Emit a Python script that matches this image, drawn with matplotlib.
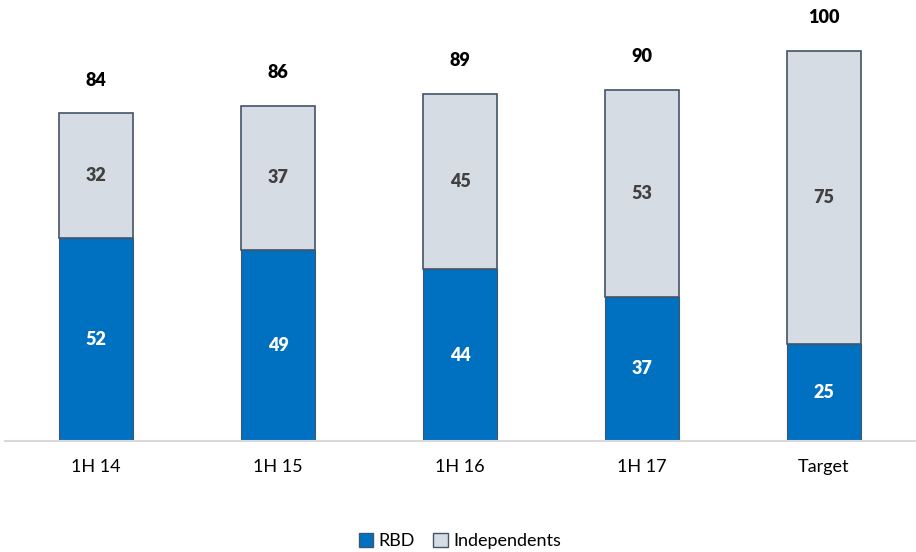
import matplotlib
matplotlib.use("Agg")
import matplotlib.pyplot as plt
from matplotlib.patches import Patch

plt.rcParams['font.family'] = ['Lato', 'DejaVu Sans']

categories = ["1H 14", "1H 15", "1H 16", "1H 17", "Target"]
rbd = [52, 49, 44, 37, 25]
independents = [32, 37, 45, 53, 75]
totals = [84, 86, 89, 90, 100]

BLUE = "#0070C0"
GREY = "#D6DCE4"
EDGE = "#44546A"


def build_chart():
    fig = plt.figure(figsize=(9.16, 5.52), dpi=100)
    ax = fig.add_axes([5 / 916, 111 / 552, 910 / 916, 429 / 552])

    x = range(len(categories))
    ax.bar(x, rbd, width=0.41, color=BLUE, edgecolor=EDGE, linewidth=0.8)
    ax.bar(x, independents, width=0.41, bottom=rbd, color=GREY,
           edgecolor=EDGE, linewidth=1.2)

    for i in x:
        ax.text(i, rbd[i] / 2, str(rbd[i]), ha="center", va="center",
                color="white", fontsize=13, fontweight="heavy")
        ax.text(i, rbd[i] + independents[i] / 2, str(independents[i]),
                ha="center", va="center", color="#404040", fontsize=13,
                fontweight="heavy")
        ax.text(i, totals[i] + 8.5, str(totals[i]), ha="center", va="center",
                color="black", fontsize=13, fontweight="heavy")

    ax.set_xlim(-0.5, len(categories) - 0.5)
    ax.set_ylim(0, 110)
    ax.set_xticks(list(x))
    ax.set_xticklabels(categories, fontsize=13)
    ax.tick_params(axis="x", length=0, pad=13)
    ax.set_yticks([])
    for side in ["top", "right", "left"]:
        ax.spines[side].set_visible(False)
    ax.spines["bottom"].set_color("#D9D9D9")
    ax.spines["bottom"].set_linewidth(1.5)

    handles = [Patch(facecolor=BLUE, edgecolor=EDGE, label="RBD"),
               Patch(facecolor=GREY, edgecolor=EDGE, label="Independents")]
    fig.legend(handles=handles, loc="center", bbox_to_anchor=(460 / 916, 1 - 541 / 552),
               ncol=2, frameon=False, fontsize=13, handlelength=0.8,
               handleheight=0.8, handletextpad=0.3, columnspacing=1.0)

    fig.savefig("out.png", dpi=100)


if __name__ == "__main__":
    build_chart()
